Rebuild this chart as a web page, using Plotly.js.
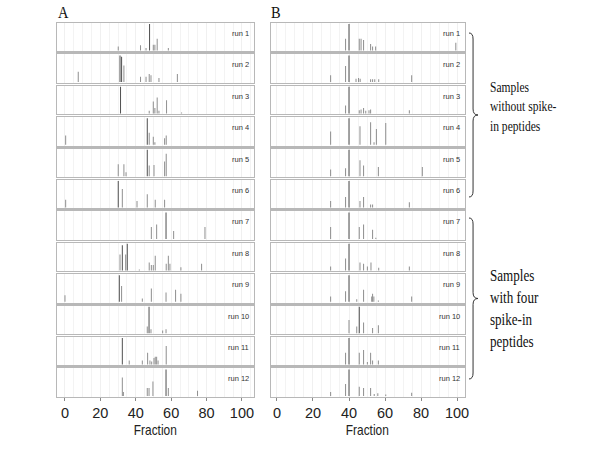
<!DOCTYPE html>
<html>
<head>
<meta charset="utf-8">
<script src="https://cdn.plot.ly/plotly-3.0.1.min.js"></script>
<style>html,body{margin:0;padding:0;background:#fff;}#chart{width:600px;height:450px;}</style>
</head>
<body>
<div id="chart"></div>
<script>
// ---------- data ----------
const runLabels = ['run 1','run 2','run 3','run 4','run 5','run 6','run 7','run 8','run 9','run 10','run 11','run 12'];
const axisTicks = [0, 20, 40, 60, 80, 100];

// Panel A: fraction positions and relative intensity of each peak, per run
const fracA = [
  [30.1, 42.7, 45.8, 47.8, 49.9, 50.8, 52.1, 58.4],
  [7.5, 31.1, 32.0, 33.3, 42.7, 45.8, 47.6, 48.6, 53.1, 63.5],
  [31.4, 47.6, 49.9, 50.8, 52.1, 53.1, 57.4, 65.9],
  [0.4, 46.5, 47.6, 49.9, 50.8, 56.3, 57.2],
  [30.1, 33.3, 34.5, 46.5, 47.6, 50.3, 56.3, 57.2],
  [0.4, 30.1, 32.4, 40.7, 46.5, 51.0, 56.3],
  [48.8, 51.8, 57.1, 61.4, 79.1],
  [31.1, 32.4, 34.3, 35.2, 42.0, 47.6, 48.8, 49.9, 51.0, 57.2, 58.4, 59.3, 65.5, 77.2],
  [0.0, 30.7, 32.0, 43.7, 48.8, 57.1, 62.5, 65.5],
  [46.5, 47.5, 48.6, 55.2, 57.1],
  [32.4, 36.3, 43.7, 46.7, 48.0, 49.0, 50.3, 51.0, 51.8, 52.6, 57.2],
  [32.4, 33.0, 46.5, 47.5, 49.7, 57.1, 58.4, 74.9]
];
const heightA = [
  [0.15, 0.2, 0.1, 1, 0.22, 0.22, 0.45, 0.1],
  [0.39, 1, 0.95, 0.62, 0.2, 0.2, 0.3, 0.25, 0.15, 0.3],
  [1, 0.1, 0.45, 0.2, 0.6, 0.1, 0.5, 0.03],
  [0.35, 1, 0.45, 0.3, 0.1, 0.25, 0.35],
  [0.45, 0.45, 0.15, 1, 0.4, 0.42, 0.55, 0.85],
  [0.3, 1, 0.7, 0.25, 0.5, 0.3, 0.3],
  [0.45, 0.55, 1, 0.3, 0.45],
  [0.6, 0.95, 0.6, 1, 0.03, 0.3, 0.2, 0.2, 0.55, 0.25, 0.55, 0.25, 0.12, 0.25],
  [0.25, 1, 0.6, 0.12, 0.5, 0.35, 0.45, 0.3],
  [0.25, 1, 0.15, 0.1, 0.15],
  [1, 0.15, 0.15, 0.45, 0.15, 0.12, 0.25, 0.3, 0.3, 0.15, 0.7],
  [0.7, 0.15, 0.3, 0.3, 0.55, 1, 0.3, 0.2]
];

// Panel B
const fracB = [
  [38.1, 40.0, 45.7, 46.7, 48.1, 52.0, 53.1, 54.8, 99.3],
  [29.8, 38.1, 40.0, 43.9, 45.3, 46.2, 52.0, 53.1, 54.3, 56.5, 74.8],
  [38.1, 40.0, 45.7, 46.7, 48.1, 49.3, 51.1, 52.0, 73.5],
  [29.8, 40.0, 46.1, 52.0, 53.9, 55.2, 60.4],
  [29.8, 38.1, 40.0, 46.1, 48.1, 56.3, 80.7],
  [29.8, 38.1, 40.0, 46.1, 48.1, 52.0, 53.1, 73.5],
  [29.8, 40.0, 45.7, 48.1, 53.1, 54.9],
  [29.8, 38.1, 40.0, 46.1, 48.1, 50.2, 52.2, 56.5, 73.5],
  [29.8, 38.1, 40.0, 44.3, 48.1, 52.6, 53.1, 53.8, 56.3, 74.8],
  [40.0, 44.3, 45.7, 48.1, 53.1, 56.3],
  [38.1, 40.0, 45.7, 48.1, 50.2, 52.0, 53.1, 56.3],
  [29.8, 38.1, 40.0, 45.7, 48.1, 52.0, 54.0, 56.0, 60.4, 74.8]
];
const heightB = [
  [0.45, 1, 0.45, 0.45, 0.4, 0.25, 0.15, 0.15, 0.3],
  [0.25, 0.6, 1, 0.12, 0.15, 0.12, 0.1, 0.1, 0.1, 0.1, 0.25],
  [0.3, 1, 0.12, 0.15, 0.2, 0.1, 0.12, 0.15, 0.12],
  [0.5, 1, 0.7, 0.85, 0.1, 0.6, 0.82],
  [0.25, 0.3, 1, 0.6, 0.4, 0.35, 0.35],
  [0.25, 0.4, 1, 0.25, 0.4, 0.12, 0.12, 0.2],
  [0.45, 1, 0.45, 0.55, 0.35, 0.05],
  [0.15, 0.45, 1, 0.3, 0.25, 0.15, 0.3, 0.1, 0.15],
  [0.2, 0.4, 1, 0.1, 0.45, 0.2, 0.3, 0.2, 0.05, 0.2],
  [0.5, 0.25, 1, 0.4, 0.2, 0.3],
  [0.45, 1, 0.45, 0.55, 0.1, 0.45, 0.15, 0.15],
  [0.15, 0.45, 1, 0.35, 0.3, 0.3, 0.08, 0.1, 0.06, 0.12]
];

// ---------- layout geometry (pixels) ----------
const W = 600, H = 450;
const SERIF = '"Liberation Serif", "Times New Roman", Times, serif';
const SANS = '"Liberation Sans", Arial, Helvetica, sans-serif';
const cols = [
  {frac: fracA, height: heightA, left: 57, right: 254, range: [-4.5, 106.8], center: 155.5},
  {frac: fracB, height: heightB, left: 271, right: 465, range: [-3.3, 104.4], center: 367}
];
const rowTop = 23, rowH = 28.4, rowPitch = 31.4;
const px = v => v / W, py = v => 1 - v / H;

const traces = [];
const layout = {
  width: W, height: H,
  margin: {l: 0, r: 0, t: 0, b: 0},
  paper_bgcolor: '#fff', plot_bgcolor: '#fff',
  showlegend: false,
  font: {family: SANS, color: '#222'},
  annotations: [], shapes: []
};

cols.forEach((col, c) => {
  for (let r = 0; r < 12; r++) {
    const idx = c * 12 + r + 1;
    const xa = 'x' + idx, ya = 'y' + idx;
    const hs = col.height[r];
    traces.push({
      type: 'bar', x: col.frac[r], y: hs,
      xaxis: xa, yaxis: ya, width: 0.55,
      marker: {color: hs.map(h => h >= 0.95 ? '#4a4a4a' : '#8c8c8c'), line: {width: 0}},
      hoverinfo: 'x+y'
    });
    const top = rowTop + r * rowPitch, bottom = top + rowH;
    const bottomRow = r === 11;
    layout['xaxis' + idx] = {
      domain: [px(col.left), px(col.right)], range: col.range, anchor: ya,
      showline: true, mirror: true, linecolor: '#b8b8b8', linewidth: 1.2,
      zeroline: false, showgrid: true, gridcolor: '#f0f0f0', gridwidth: 1,
      tickmode: 'array', tickvals: axisTicks, ticktext: axisTicks.map(String),
      minor: {tickmode: 'linear', tick0: 0, dtick: 5, showgrid: true, gridcolor: '#f3f3f3', gridwidth: 1, ticks: ''},
      ticks: bottomRow ? 'outside' : '', ticklen: 3, tickcolor: '#888', tickwidth: 1,
      showticklabels: bottomRow,
      tickfont: {size: 14.5, color: '#222', family: SANS},
      title: {text: ''},
      fixedrange: true
    };
    layout['yaxis' + idx] = {
      domain: [py(bottom), py(top)], range: [-0.03, 1.04], anchor: xa,
      showline: true, mirror: true, linecolor: '#b8b8b8', linewidth: 1.2,
      zeroline: false, showgrid: false, showticklabels: false, ticks: '',
      fixedrange: true
    };
    layout.annotations.push({
      xref: xa + ' domain', yref: ya + ' domain', x: 1, y: 1,
      xanchor: 'right', yanchor: 'top', xshift: -3, yshift: -4,
      text: runLabels[r], showarrow: false,
      font: {size: 7.5, color: '#333', family: SANS}
    });
  }
  // axis title
  layout.annotations.push({
    xref: 'paper', yref: 'paper', x: px(col.center), y: py(430), xanchor: 'center', yanchor: 'middle',
    text: 'Fraction', showarrow: false, font: {size: 14, color: '#222', family: SANS}
  });
});

// panel letters
layout.annotations.push(
  {xref: 'paper', yref: 'paper', x: px(56), y: py(13), xanchor: 'left', yanchor: 'middle', text: 'A', showarrow: false,
   font: {family: SERIF, size: 17, color: '#111'}},
  {xref: 'paper', yref: 'paper', x: px(269), y: py(13), xanchor: 'left', yanchor: 'middle', text: 'B', showarrow: false,
   font: {family: SERIF, size: 17, color: '#111'}}
);

// group descriptions
layout.annotations.push(
  {xref: 'paper', yref: 'paper', x: px(488), y: py(107), xanchor: 'left', yanchor: 'middle', align: 'left',
   text: 'Samples<br>without spike-<br>in peptides', showarrow: false,
   font: {family: SERIF, size: 15, color: '#111'}},
  {xref: 'paper', yref: 'paper', x: px(488), y: py(308), xanchor: 'left', yanchor: 'middle', align: 'left',
   text: 'Samples<br>with four<br>spike-in<br>peptides', showarrow: false,
   font: {family: SERIF, size: 17, color: '#111'}}
);

// curly braces
function brace(x0, y0, y1, w) {
  const ym = (y0 + y1) / 2, xs = x0 + w * 0.45, xp = x0 + w, r = 6;
  const P = (x, y) => px(x).toFixed(5) + ',' + py(y).toFixed(5);
  return 'M' + P(x0, y0) +
    ' Q' + P(xs, y0) + ' ' + P(xs, y0 + r) +
    ' L' + P(xs, ym - r) +
    ' Q' + P(xs, ym) + ' ' + P(xp, ym) +
    ' Q' + P(xs, ym) + ' ' + P(xs, ym + r) +
    ' L' + P(xs, y1 - r) +
    ' Q' + P(xs, y1) + ' ' + P(x0, y1);
}
layout.shapes.push(
  {type: 'path', xref: 'paper', yref: 'paper', path: brace(469, 33, 197, 9), line: {color: '#333', width: 1}},
  {type: 'path', xref: 'paper', yref: 'paper', path: brace(469, 218, 379, 9), line: {color: '#333', width: 1}}
);

// the source figure's lettering is horizontally condensed; mimic it on the big text
function squeeze(el, s, anchor) {
  const b = el.getBBox();
  const cx = anchor === 'left' ? b.x : b.x + b.width / 2;
  const t = el.getAttribute('transform') || '';
  el.setAttribute('transform', t + ' translate(' + cx + ',0) scale(' + s + ',1) translate(' + (-cx) + ',0)');
}

Plotly.newPlot('chart', traces, layout, {staticPlot: true, displayModeBar: false}).then(gd => {
  gd.querySelectorAll('.xtick text, text.xtick').forEach(el => squeeze(el, 0.8, 'center'));
  gd.querySelectorAll('.annotation-text').forEach(el => {
    const txt = el.textContent;
    if (txt === 'Fraction') squeeze(el, 0.85, 'center');
    else if (txt === 'A' || txt === 'B') squeeze(el, 0.85, 'left');
    else if (txt.indexOf('Samples') === 0) squeeze(el, 0.77, 'left');
  });
});
</script>
</body>
</html>
